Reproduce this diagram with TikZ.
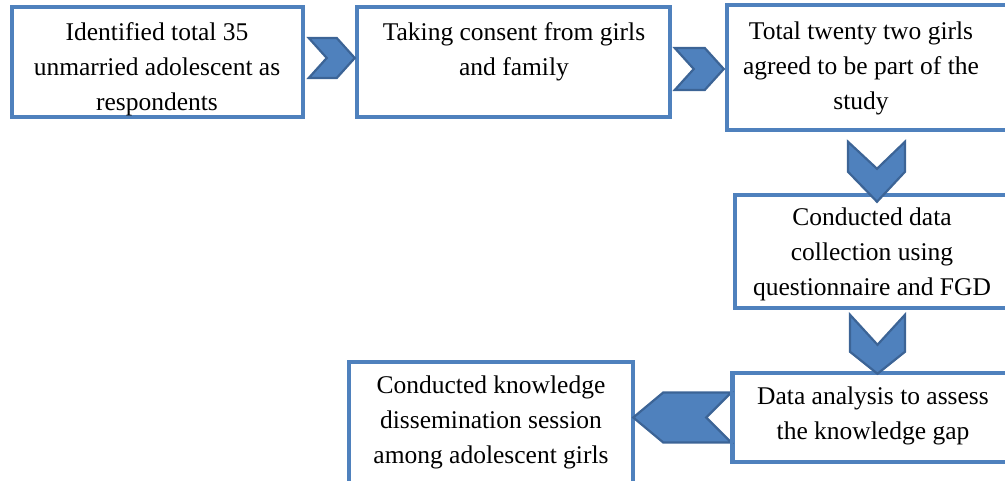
\documentclass[tikz,border=0pt]{standalone}
\usepackage{fontspec}
\setmainfont{Liberation Serif}
\usetikzlibrary{calc}
\definecolor{boxblue}{HTML}{4F81BD}
\definecolor{edgeblue}{HTML}{3C6496}
\begin{document}
\begin{tikzpicture}[x=1pt,y=-1pt,
  box/.style={draw=boxblue,line width=3.5pt,fill=white,inner sep=0pt,rectangle},
  txt/.style={align=center,inner sep=0pt,font=\fontsize{25.5}{35}\selectfont},
  chev/.style={fill=boxblue,draw=edgeblue,line width=2.2pt,line join=miter}]
\useasboundingbox (0,0) rectangle (1005,481);
\clip (0,0) rectangle (1005,481);
% boxes
\node[box,minimum width=291pt,minimum height=110pt] (b1) at (157.5,62) {};
\node[box,minimum width=313pt,minimum height=110pt] (b2) at (513.5,62) {};
\node[box,minimum width=293pt,minimum height=125pt] (b3) at (873.5,67.5) {};
\node[box,minimum width=285pt,minimum height=113pt] (b4) at (877.5,251.5) {};
\node[box,minimum width=287pt,minimum height=89pt] (b5) at (876.5,417.5) {};
\node[box,minimum width=284pt,minimum height=138pt] (b6) at (491,431) {};
% texts
\node[txt] (t1) at (157,69) {Identified total 35\\unmarried adolescent as\\respondents};
\node[txt] (t2) at (514,51.5) {Taking consent from girls\\and family};
\node[txt] (t3) at (861,68) {Total twenty two girls\\agreed to be part of the\\study};
\node[txt] (t4) at (872,254) {Conducted data\\collection using\\questionnaire and FGD};
\node[txt] (t5) at (873,416) {Data analysis to assess\\the knowledge gap};
\node[txt] (t6) at (491,422) {Conducted knowledge\\dissemination session\\among adolescent girls};
% chevron connectors
\coordinate (c1) at ($(b1.east)+(4,0)$);
\draw[chev] ($(c1)+(0,-24)$) -- ($(c1)+(28,-24)$) -- ($(c1)+(46,-4)$) -- ($(c1)+(28,16)$) -- ($(c1)+(0,16)$) -- ($(c1)+(18,-4)$) -- cycle;
\coordinate (c2) at ($(b2.east)+(3,0)$);
\draw[chev] ($(c2)+(0,-14)$) -- ($(c2)+(30,-14)$) -- ($(c2)+(49,7)$) -- ($(c2)+(30,28)$) -- ($(c2)+(0,28)$) -- ($(c2)+(19,7)$) -- cycle;
\coordinate (c3) at ($(b3.south)+(3.5,0)$);
\draw[chev] ($(c3)+(-29,10)$) -- ($(c3)+(0,37)$) -- ($(c3)+(28,10)$) -- ($(c3)+(28,40)$) -- ($(c3)+(0,70)$) -- ($(c3)+(-29,40)$) -- cycle;
\coordinate (c4) at (b4.south);
\draw[chev] ($(c4)+(-27.5,5)$) -- ($(c4)+(0,35)$) -- ($(c4)+(27.5,5)$) -- ($(c4)+(27.5,42)$) -- ($(c4)+(0,64)$) -- ($(c4)+(-27.5,42)$) -- cycle;
\coordinate (c5) at (b5.west);
\draw[chev] ($(c5)+(-98,0)$) -- ($(c5)+(-68,-25)$) -- ($(c5)+(0,-25)$) -- ($(c5)+(-25,0)$) -- ($(c5)+(0,25)$) -- ($(c5)+(-68,25)$) -- cycle;
\draw[draw=boxblue,line width=3.5pt] (b5.north west) -- (b5.south west);
\end{tikzpicture}
\end{document}
